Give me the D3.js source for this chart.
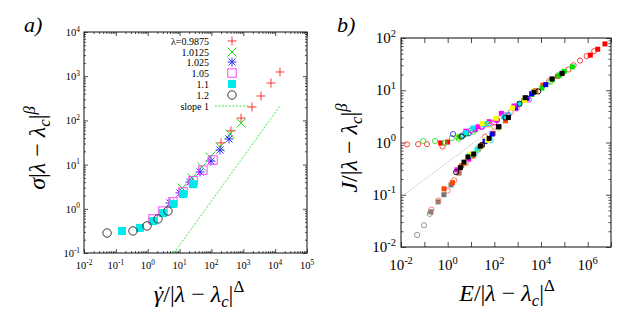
<!DOCTYPE html>
<meta charset="utf-8">
<style>
body { margin: 0; background: #fff; }
text { font-family: "Liberation Serif", "Times New Roman", "DejaVu Serif", serif; fill: #000; }
.frame { fill: none; stroke: #222; stroke-width: 1.1px; }
.tick line { stroke: #222; stroke-width: 0.8px; }
.domain { display: none; }
</style>
<script src="https://cdn.jsdelivr.net/npm/d3@7"></script>
<body>
<script>

// ---- panel a) : sigma vs gamma-dot, one array pair per lambda ----
var lamLabels = ["λ=0.9875", "1.0125", "1.025", "1.05", "1.1", "1.2"];

var rateA = [200, 410, 850, 1870, 3600, 7400, 14200];        // lambda 0.9875
var sigA  = [31, 58, 113, 201, 357, 700, 1245];
var rateB = [12, 24.5, 50, 90, 186, 383, 850];               // 1.0125
var sigB  = [2.95, 4.98, 8.8, 14.9, 25, 49, 87];
var rateC = [5.0, 10.3, 21, 44, 97, 186, 355];               // 1.025
var sigC  = [1.35, 2.28, 4.04, 6.8, 12, 21.4, 38];
var rateD = [1.47, 3.0, 6.2, 12.8, 26.5, 54, 112];           // 1.05
var sigD  = [0.59, 0.89, 1.43, 2.4, 4.3, 7.5, 12.7];
var rateE = [0.156, 0.57, 1.47, 3.0, 6.2, 12.8, 26.5];       // 1.1
var sigE  = [0.315, 0.37, 0.53, 0.80, 1.28, 2.16, 3.6];
var rateF = [0.053, 0.345, 0.95, 2.1, 4.3];                  // 1.2
var sigF  = [0.283, 0.315, 0.41, 0.59, 0.89];

var slopeX = [6.7, 14000];
var slopeY = [0.1, 210];

// ---- panel b) : J vs E, open circles and filled squares per colour ----
var redCircE = [0.018, 0.054, 0.13, 0.6, 8e4, 1.5e5, 2.5e5, 4.7e5, 9e5, 1.9e6];
var redCircJ = [0.92, 0.93, 0.93, 0.84, 21, 25, 30, 37, 45, 56];
var redSqE = [0.5, 1.0, 1.3e6, 2.7e6, 5.5e6];
var redSqJ = [0.98, 1.02, 47, 61, 77];
var greenCircE = [0.09, 0.29, 0.75, 1.5, 3.0, 6, 12, 2.5e4, 6e4];
var greenCircJ = [1.07, 1.07, 0.98, 1.22, 1.18, 1.45, 1.6, 14.5, 19];
var greenSqE = [2.8, 6.5, 15, 1800, 4000, 1.1e4, 3e4, 6e4, 1e5, 2.2e5];
var greenSqJ = [1.27, 1.5, 1.75, 6.4, 8.3, 11, 16, 19.5, 23, 28];
var blueCircE = [1.7, 4.6, 8, 28, 60, 130, 400];
var blueCircJ = [1.45, 1.38, 1.5, 2.0, 2.3, 2.7, 3.3];
var blueSqE = [20, 40, 80, 160, 800, 2500, 4000, 1.6e4];
var blueSqJ = [0.75, 1.05, 1.45, 2.0, 4.6, 7.0, 8.6, 12.8];
var magCircE = [10, 30, 100, 300, 900, 3000];
var magCircJ = [1.7, 2.0, 2.4, 3.3, 4.5, 6.6];
var magSqE = [2.5, 8, 6, 15, 20, 40, 60, 120, 200, 700];
var magSqJ = [0.3, 0.48, 1.65, 1.8, 2.0, 2.2, 2.5, 2.7, 3.6, 5.0];
var cyanCircE = [3.5, 15, 70, 400];
var cyanCircJ = [1.32, 0.62, 1.1, 3.4];
var cyanSqE = [9, 18, 22, 6, 12, 35, 45, 250, 1200];
var cyanSqJ = [0.56, 0.72, 0.78, 1.55, 1.9, 2.2, 2.3, 3.1, 5.5];
var yellowCircE = [3, 5.5, 20, 60, 150];
var yellowCircJ = [1.3, 0.42, 0.75, 2.2, 1.9];
var yellowSqE = [10, 50, 30, 120, 600, 2000, 5000];
var yellowSqJ = [0.6, 1.1, 2.3, 2.9, 4.6, 6.4, 9.5];
var blackCircE = [2.3, 4, 30, 300, 1200, 7600];
var blackCircJ = [0.27, 1.3, 0.9, 3.0, 5.5, 9.5];
var blackSqE = [3.5, 5, 7.4, 13, 25, 60, 150, 400, 2100, 5000, 3e4, 8e4];
var blackSqJ = [0.33, 0.42, 0.53, 0.6, 0.85, 1.2, 2.0, 3.0, 7.2, 9.2, 16.5, 21];
var orangeSqE = [0.7, 1.6, 4, 12, 30, 90, 300, 6000, 1.2e4, 5e4];
var orangeSqJ = [0.13, 0.17, 0.36, 0.55, 0.9, 1.5, 2.6, 9.8, 12.5, 18.5];
var coralCircE = [0.2, 0.4, 1.0, 1.9, 2.9, 6, 40, 100, 500, 2500, 2.2e4];
var coralCircJ = [0.052, 0.078, 0.12, 0.19, 0.27, 0.4, 1.3, 2.0, 3.8, 7.0, 15];
var grayCircE = [0.049, 0.097, 0.17];
var grayCircJ = [0.017, 0.026, 0.043];
var graySqE = [0.19, 0.39, 0.69, 1.4, 3.1];
var graySqJ = [0.047, 0.073, 0.10, 0.154, 0.26];

var guideE = [0.0148, 100];
var guideJ = [0.103, 1.95];

var svg = d3.select("body").append("svg")
    .attr("width", 623)
    .attr("height", 319);

function zip(xs, ys) { return xs.map(function (v, i) { return [v, ys[i]]; }); }
function pows(a, b) { return d3.range(a, b + 1).map(function (k) { return Math.pow(10, k); }); }
function minors(a, b) {
  var m = [];
  for (var k = a; k < b; k++) for (var j = 2; j < 10; j++) m.push(j * Math.pow(10, k));
  return m;
}

// writes math-ish text from parts: {t, it, sup, sub, dx}
function mathText(sel, parts, size) {
  var base = 0;
  parts.forEach(function (p) {
    var shift = p.sup ? -0.42 * size : (p.sub ? 0.22 * size : 0);
    var ts = sel.append("tspan")
      .attr("dy", shift - base)
      .style("font-style", p.it ? "italic" : "normal")
      .style("font-size", (p.sup || p.sub) ? (size * 0.7) + "px" : size + "px")
      .text(p.t);
    if (p.dx) ts.attr("dx", p.dx);
    base = shift;
  });
}

function powLabel(sel, e, size) {
  mathText(sel, [{ t: "10" }, { t: String(e), sup: true }], size);
}

function textWidth(str, size, italic) {
  var m = svg.append("text").style("font-size", size + "px")
    .style("font-style", italic ? "italic" : "normal").text(str);
  var w = m.node().getComputedTextLength();
  m.remove();
  return w;
}

// frame + inward ticks on all four sides
function frame(g, x, y, w, h, xMaj, xMin, yMaj, yMin, big, small) {
  g.append("g").attr("transform", "translate(0," + h + ")")
    .call(d3.axisBottom(x).tickValues(xMaj).tickSize(-big).tickFormat(""));
  g.append("g")
    .call(d3.axisTop(x).tickValues(xMaj).tickSize(-big).tickFormat(""));
  g.append("g")
    .call(d3.axisLeft(y).tickValues(yMaj).tickSize(-big).tickFormat(""));
  g.append("g").attr("transform", "translate(" + w + ",0)")
    .call(d3.axisRight(y).tickValues(yMaj).tickSize(-big).tickFormat(""));
  if (xMin.length) {
    g.append("g").attr("transform", "translate(0," + h + ")")
      .call(d3.axisBottom(x).tickValues(xMin).tickSize(-small).tickFormat(""));
    g.append("g")
      .call(d3.axisTop(x).tickValues(xMin).tickSize(-small).tickFormat(""));
  }
  if (yMin.length) {
    g.append("g")
      .call(d3.axisLeft(y).tickValues(yMin).tickSize(-small).tickFormat(""));
    g.append("g").attr("transform", "translate(" + w + ",0)")
      .call(d3.axisRight(y).tickValues(yMin).tickSize(-small).tickFormat(""));
  }
  g.append("rect").attr("class", "frame").attr("width", w).attr("height", h);
}

// symbol drawers
function plus(g, px, py, s, c) {
  g.append("path").attr("d", "M" + (px - s) + "," + py + "H" + (px + s) + "M" + px + "," + (py - s) + "V" + (py + s))
    .attr("stroke", c).attr("stroke-width", 0.9).attr("fill", "none");
}
function cross(g, px, py, s, c) {
  g.append("path").attr("d", "M" + (px - s) + "," + (py - s) + "L" + (px + s) + "," + (py + s) +
      "M" + (px - s) + "," + (py + s) + "L" + (px + s) + "," + (py - s))
    .attr("stroke", c).attr("stroke-width", 0.9).attr("fill", "none");
}
function star(g, px, py, s, c) { plus(g, px, py, s, c); cross(g, px, py, s * 0.8, c); }
function openSq(g, px, py, s, c) {
  g.append("rect").attr("x", px - s).attr("y", py - s).attr("width", 2 * s).attr("height", 2 * s)
    .attr("fill", "none").attr("stroke", c).attr("stroke-width", 0.9);
}
function fillSq(g, px, py, s, c) {
  g.append("rect").attr("x", px - s).attr("y", py - s).attr("width", 2 * s).attr("height", 2 * s)
    .attr("fill", c);
}
function openCirc(g, px, py, s, c) {
  g.append("circle").attr("cx", px).attr("cy", py).attr("r", s)
    .attr("fill", "none").attr("stroke", c).attr("stroke-width", 0.9);
}

// ================= panel a) =================
var aw = 223, ah = 221;
var ga = svg.append("g").attr("transform", "translate(84,32)");
var xa = d3.scaleLog().domain([1e-2, 1e5]).range([0, aw]);
var ya = d3.scaleLog().domain([1e-1, 1e4]).range([ah, 0]);

frame(ga, xa, ya, aw, ah, pows(-2, 5), minors(-2, 5), pows(-1, 4), minors(-1, 4), 4, 2);

pows(-2, 5).forEach(function (v) {
  var t = ga.append("text").attr("x", xa(v)).attr("y", ah + 16).attr("text-anchor", "middle");
  powLabel(t, Math.round(Math.log10(v)), 10.5);
});
pows(-1, 4).forEach(function (v) {
  var t = ga.append("text").attr("x", -4).attr("y", ya(v) + 4).attr("text-anchor", "end");
  powLabel(t, Math.round(Math.log10(v)), 10.5);
});

var leftSets = [
  { x: rateA, y: sigA, c: "#ff2020", f: plus, s: 4.5 },
  { x: rateB, y: sigB, c: "#00e000", f: cross, s: 4.5 },
  { x: rateC, y: sigC, c: "#2020ff", f: star, s: 4.5 },
  { x: rateD, y: sigD, c: "#ff30ff", f: openSq, s: 4.2 },
  { x: rateE, y: sigE, c: "#00e8e8", f: fillSq, s: 4 },
  { x: rateF, y: sigF, c: "#222", f: openCirc, s: 4.2 }
];

ga.append("path")
  .datum(zip(slopeX, slopeY))
  .attr("d", d3.line().x(function (d) { return xa(d[0]); }).y(function (d) { return ya(d[1]); }))
  .attr("stroke", "#30e030").attr("stroke-width", 0.9).attr("stroke-dasharray", "2,1.5").attr("fill", "none");

leftSets.forEach(function (s) {
  zip(s.x, s.y).forEach(function (d) { s.f(ga, xa(d[0]), ya(d[1]), s.s, s.c); });
});

// legend
var legY = [41, 52, 62, 73, 84, 95];
lamLabels.forEach(function (lab, i) {
  svg.append("text").attr("x", 209).attr("y", legY[i] + 3.5).attr("text-anchor", "end")
    .style("font-size", "10px").text(lab);
  leftSets[i].f(svg, 232, legY[i], leftSets[i].s, leftSets[i].c);
});
svg.append("text").attr("x", 209).attr("y", 109.5).attr("text-anchor", "end")
  .style("font-size", "10px").text("slope 1");
svg.append("line").attr("x1", 215).attr("x2", 250).attr("y1", 106).attr("y2", 106)
  .attr("stroke", "#30e030").attr("stroke-width", 0.9).attr("stroke-dasharray", "2,1.5");

// titles
var tya = svg.append("text").attr("text-anchor", "middle")
  .attr("transform", "translate(45,148) rotate(-90)");
mathText(tya, [{ t: "σ", it: true }, { t: "|" }, { t: "λ", it: true }, { t: " − " }, { t: "λ", it: true },
  { t: "c", it: true, sub: true }, { t: "|" }, { t: "β", it: true, sup: true }], 24);

// gamma-dot: the dot is put back over the gamma and the advance restored
var gw = textWidth("γ", 24, true), dw = textWidth("˙", 24, false);
var txa = svg.append("text").attr("text-anchor", "middle").attr("x", 199).attr("y", 302);
mathText(txa, [{ t: "γ", it: true }, { t: "˙", dx: -(gw / 2 + dw / 2) + 2 }, { t: "/|", dx: gw / 2 - dw / 2 - 2 },
  { t: "λ", it: true }, { t: " − " }, { t: "λ", it: true },
  { t: "c", it: true, sub: true }, { t: "|" }, { t: "Δ", sup: true }], 24);
svg.append("text").attr("x", 24).attr("y", 32).style("font-size", "22px").style("font-style", "italic").text("a)");

// ================= panel b) =================
var bw = 210, bh = 209;
var gb = svg.append("g").attr("transform", "translate(401,38)");
var xb = d3.scaleLog().domain([1e-2, 1e7]).range([0, bw]);
var yb = d3.scaleLog().domain([1e-2, 1e2]).range([bh, 0]);

frame(gb, xb, yb, bw, bh, pows(-2, 7), [], pows(-2, 2), minors(-2, 2), 5, 2.5);

[-2, 0, 2, 4, 6].forEach(function (e) {
  var t = gb.append("text").attr("x", xb(Math.pow(10, e))).attr("y", bh + 23).attr("text-anchor", "middle");
  powLabel(t, e, 15);
});
pows(-2, 2).forEach(function (v) {
  var t = gb.append("text").attr("x", -5).attr("y", yb(v) + 5).attr("text-anchor", "end");
  powLabel(t, Math.round(Math.log10(v)), 15);
});

gb.append("path")
  .datum(zip(guideE, guideJ))
  .attr("d", d3.line().x(function (d) { return xb(d[0]); }).y(function (d) { return yb(d[1]); }))
  .attr("stroke", "#999").attr("stroke-width", 0.7).attr("stroke-dasharray", "1,1").attr("fill", "none");

var rightSets = [
  { x: grayCircE, y: grayCircJ, c: "#888", f: openCirc, s: 2.6 },
  { x: graySqE, y: graySqJ, c: "#777", f: fillSq, s: 2.5 },
  { x: coralCircE, y: coralCircJ, c: "#ff7050", f: openCirc, s: 2.6 },
  { x: orangeSqE, y: orangeSqJ, c: "#ff4500", f: fillSq, s: 2.5 },
  { x: redCircE, y: redCircJ, c: "#ff3030", f: openCirc, s: 2.6 },
  { x: redSqE, y: redSqJ, c: "#ff0000", f: fillSq, s: 2.5 },
  { x: greenCircE, y: greenCircJ, c: "#20e020", f: openCirc, s: 2.6 },
  { x: greenSqE, y: greenSqJ, c: "#00e000", f: fillSq, s: 2.5 },
  { x: blueCircE, y: blueCircJ, c: "#3030ff", f: openCirc, s: 2.6 },
  { x: blueSqE, y: blueSqJ, c: "#0000ff", f: fillSq, s: 2.5 },
  { x: magCircE, y: magCircJ, c: "#ff00ff", f: openCirc, s: 2.6 },
  { x: magSqE, y: magSqJ, c: "#ff00ff", f: fillSq, s: 2.5 },
  { x: cyanCircE, y: cyanCircJ, c: "#00d8e8", f: openCirc, s: 2.6 },
  { x: cyanSqE, y: cyanSqJ, c: "#00e8f0", f: fillSq, s: 2.5 },
  { x: yellowCircE, y: yellowCircJ, c: "#e8d800", f: openCirc, s: 2.6 },
  { x: yellowSqE, y: yellowSqJ, c: "#ffff00", f: fillSq, s: 2.5 },
  { x: blackCircE, y: blackCircJ, c: "#000", f: openCirc, s: 2.6 },
  { x: blackSqE, y: blackSqJ, c: "#000", f: fillSq, s: 2.5 }
];
rightSets.forEach(function (s) {
  zip(s.x, s.y).forEach(function (d) { s.f(gb, xb(d[0]), yb(d[1]), s.s, s.c); });
});

var tyb = svg.append("text").attr("text-anchor", "middle")
  .attr("transform", "translate(357,148) rotate(-90)");
mathText(tyb, [{ t: "J", it: true }, { t: "/|" }, { t: "λ", it: true }, { t: " − " }, { t: "λ", it: true },
  { t: "c", it: true, sub: true }, { t: "|" }, { t: "β", it: true, sup: true }], 24);
var txb = svg.append("text").attr("text-anchor", "middle").attr("x", 507).attr("y", 301);
mathText(txb, [{ t: "E", it: true }, { t: "/|" }, { t: "λ", it: true }, { t: " − " }, { t: "λ", it: true },
  { t: "c", it: true, sub: true }, { t: "|" }, { t: "Δ", sup: true }], 24);
svg.append("text").attr("x", 337).attr("y", 32).style("font-size", "22px").style("font-style", "italic").text("b)");

</script>
</body>
